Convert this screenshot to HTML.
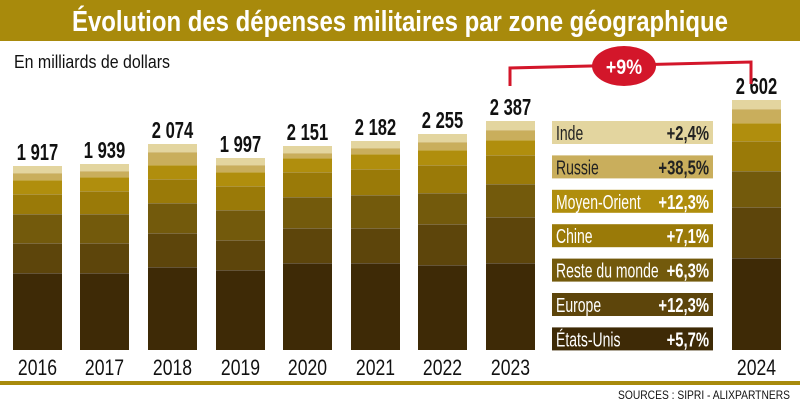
<!DOCTYPE html>
<html><head><meta charset="utf-8"><style>
body{margin:0;background:#fff;}
svg text{font-family:"Liberation Sans",sans-serif;}
</style></head><body>
<svg width="800" height="403" viewBox="0 0 800 403" xmlns="http://www.w3.org/2000/svg">
<rect x="0" y="0" width="800" height="41" fill="#a88a0c"/>
<text x="72" y="31" fill="#fff" font-size="29" font-weight="bold" textLength="656" lengthAdjust="spacingAndGlyphs">Évolution des dépenses militaires par zone géographique</text>
<text x="14" y="68" fill="#111" font-size="18" textLength="156" lengthAdjust="spacingAndGlyphs">En milliards de dollars</text>
<g id="bars"></g>
<rect x="0" y="381" width="800" height="4" fill="#a88a0c"/>
<text x="790" y="399" text-anchor="end" fill="#111" font-size="12" textLength="172" lengthAdjust="spacingAndGlyphs">SOURCES : SIPRI - ALIXPARTNERS</text>
<polyline points="510,86 510,68 751,62 751,84" fill="none" stroke="#d3162a" stroke-width="3"/>
<ellipse cx="624" cy="66" rx="32" ry="20" fill="#d3162a"/>
<text x="624" y="74" text-anchor="middle" fill="#fff" font-size="21" font-weight="bold" transform="translate(624,0) scale(0.85,1) translate(-624,0)">+9%</text>
</svg>
<script>
var cols=["#e3d59f","#c9ae5c","#b08e0d","#9a7a08","#735a0c","#5d450b","#3e2a06"];
var data=[
["2016","1 917",13,[166,173,180,194,214,243,273]],
["2017","1 939",80,[164,171,177,191,214,243,273]],
["2018","2 074",148,[144,152,165,179,203,233,267]],
["2019","1 997",216,[158,165,172,186,210,240,270]],
["2020","2 151",283,[146,153,158,172,197,228,263]],
["2021","2 182",351,[141,148,154,169,195,228,263]],
["2022","2 255",418,[134,142,150,165,193,224,265]],
["2023","2 387",486,[121,130,140,155,184,217,263]],
["2024","2 602",732,[100,109,123,141,171,207,258]]];
function t(x,y,str,opt,sx){sx=sx||0.78;
 return '<text x="'+x+'" y="'+y+'" '+opt+' transform="translate('+x+',0) scale('+sx+',1) translate('+(-x)+',0)">'+str+'</text>';}
var s="";
data.forEach(function(d){
 var x=d[2],w=49,b=d[3];
 for(var i=0;i<7;i++){var y0=b[i],y1=i<6?b[i+1]:350;
  s+='<rect x="'+x+'" y="'+y0+'" width="'+w+'" height="'+(y1-y0)+'" fill="'+cols[i]+'"/>';
  if(i>0)s+='<rect x="'+x+'" y="'+y0+'" width="'+w+'" height="0.8" fill="#ffffff" opacity="0.25"/>';}
 s+=t(x+w/2,b[0]-6,d[1],'text-anchor="middle" font-size="23" font-weight="bold" fill="#111"',0.72);
 s+=t(x+w/2,375,d[0],'text-anchor="middle" font-size="22" fill="#111"',0.8);
});
var leg=[["Inde","+2,4%","#222"],["Russie","+38,5%","#222"],["Moyen-Orient","+12,3%","#fff"],["Chine","+7,1%","#fff"],["Reste du monde","+6,3%","#fff"],["Europe","+12,3%","#fff"],["États-Unis","+5,7%","#fff"]];
leg.forEach(function(l,i){var y=121+i*34.4;
 s+='<rect x="552" y="'+y+'" width="161" height="23" fill="'+cols[i]+'"/>';
 s+=t(556,y+19,l[0],'font-size="20" fill="'+l[2]+'"',0.7);
 s+=t(709,y+19,l[1],'text-anchor="end" font-size="20" font-weight="bold" fill="'+l[2]+'"',0.74);
});
document.getElementById("bars").innerHTML=s;
</script>
</body></html>
